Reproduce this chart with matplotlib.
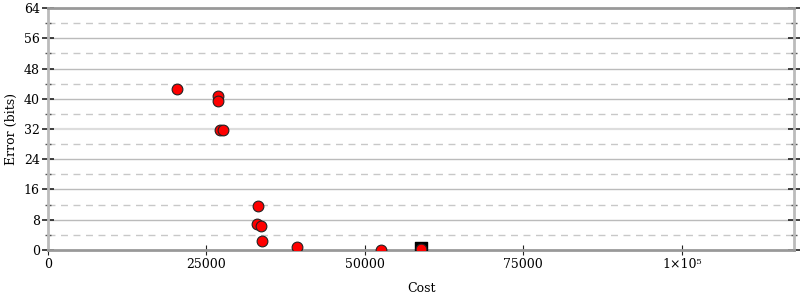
import matplotlib.pyplot as plt
from matplotlib.ticker import FixedLocator, FuncFormatter

plt.rcParams['font.family'] = 'DejaVu Serif'

# data
cost = [20350, 26800, 26800, 27130, 27600, 33120, 33000, 33600, 33700, 39320, 52520, 58830]
error = [42.6, 40.7, 39.4, 31.7, 31.7, 11.6, 7.0, 6.4, 2.5, 0.9, 0.1, 0.2]
best_cost = [58830]
best_error = [0.45]

x_ticks = [0, 25000, 50000, 75000, 100000]
y_ticks = [0, 8, 16, 24, 32, 40, 48, 56, 64]
y_minor = [4, 12, 20, 28, 36, 44, 52, 60]

fig = plt.figure(figsize=(8, 3), dpi=100)
ax = fig.add_axes([0.06, 0.1667, 0.9325, 0.8066])

# grid lines
for y in y_ticks[1:-1]:
    c = '#dddddd' if y == 32 else '#bbbbbb'
    lw = 1.6 if y == 32 else 1.0
    ax.axhline(y, color=c, lw=lw, zorder=0)
for y in y_minor:
    ax.axhline(y, color='#c8c8c8', lw=1.0, ls=(0, (5, 4)), zorder=0)

ax.scatter(best_cost, best_error, marker='s', s=80, color='black', zorder=3)
ax.scatter(cost, error, s=60, color='red', edgecolors='#222222', linewidths=0.8, zorder=4)

ax.set_xlim(0, 117700)
ax.set_ylim(0, 64)

ax.xaxis.set_major_locator(FixedLocator(x_ticks))
ax.yaxis.set_major_locator(FixedLocator(y_ticks))
ax.yaxis.set_minor_locator(FixedLocator(y_minor))

def fmt_x(v, pos):
    if v == 100000:
        return '1×10⁵'
    return '%d' % v

ax.xaxis.set_major_formatter(FuncFormatter(fmt_x))

ax.tick_params(axis='x', which='major', direction='inout', length=7, width=0.8,
               color='#222222', labelsize=9, pad=2, top=False)
ax.tick_params(axis='y', which='major', direction='inout', length=8, width=1.2,
               color='#222222', labelsize=9, pad=2, right=True)
ax.tick_params(axis='y', which='minor', direction='inout', length=5, width=1,
               color='#555555', right=True)

for side in ['left', 'right']:
    ax.spines[side].set_color('#bbbbbb')
    ax.spines[side].set_linewidth(2)
for side in ['top', 'bottom']:
    ax.spines[side].set_color('#999999')
    ax.spines[side].set_linewidth(2)

ax.set_xlabel('Cost', fontsize=9, labelpad=8)
ax.set_ylabel('Error (bits)', fontsize=9, labelpad=4)

fig.savefig('out.png', dpi=100)
